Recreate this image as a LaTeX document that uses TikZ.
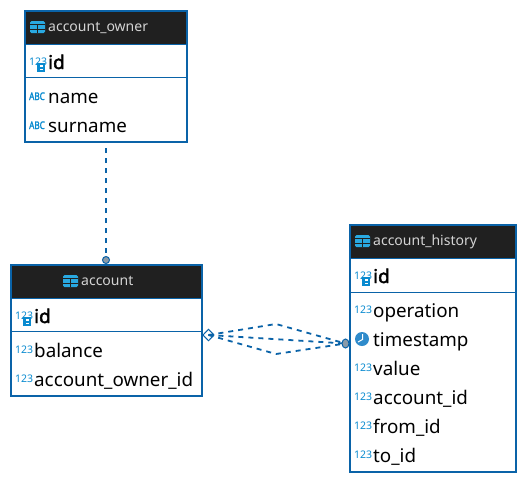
\documentclass[tikz,border=0pt]{standalone}
\usepackage{fontspec}
\setmainfont{Noto Sans}
\newfontfamily\fatfam[FakeBold=2.2]{Noto Sans}
\usetikzlibrary{shapes.geometric}
\definecolor{edge}{HTML}{0A63A8}
\definecolor{head}{HTML}{202020}
\definecolor{headtext}{HTML}{D4D4D4}
\definecolor{iconblue}{HTML}{0A8BD0}
\definecolor{tblblue}{HTML}{29A9E1}
\definecolor{dotgray}{HTML}{8A9AA8}
\definecolor{clockblue}{HTML}{2F8BCB}
\tikzset{
  x=1pt,y=-1pt,
  tablebox/.style={draw=edge,line width=1.8pt,fill=white,inner sep=0pt,outer sep=0pt,anchor=north west},
  sepline/.style={draw=edge,line width=0.9pt},
  col/.style={anchor=base west,inner sep=0pt,text=black,font=\fontsize{18.8}{18.8}\selectfont},
  keycol/.style={col,font=\fontsize{19}{19}\fatfam},
  title/.style={anchor=base west,inner sep=0pt,text=headtext,font=\fontsize{14}{14}\selectfont},
  numicon/.style={anchor=base west,inner sep=0pt,text=iconblue,font=\fontsize{10.5}{10.5}\selectfont},
  abcicon/.style={anchor=base west,inner sep=0pt,text=iconblue,xscale=.78,font=\fontsize{10.5}{10.5}\fatfam},
  rel/.style={draw=edge,line width=1.8pt,dash pattern=on 5pt off 5pt},
  enddot/.style={ellipse,draw=edge,fill=dotgray,line width=1pt,minimum width=7pt,minimum height=7pt,inner sep=0pt,outer sep=0pt},
  enddia/.style={diamond,draw=edge,fill=white,line width=1pt,minimum width=11pt,minimum height=11.5pt,inner sep=0pt,outer sep=0pt}
}
\newcommand{\tblicon}[2]{%
  \fill[tblblue,rounded corners=1.5pt] (#1,#2) rectangle ++(15,12);
  \draw[head,line width=0.8pt] (#1,#2+3.5) -- ++(15,0) (#1,#2+8) -- ++(15,0) (#1+7.5,#2+3.5) -- ++(0,8.5);
}
% 123 with a key badge; #1 = left, #2 = baseline of the digits
\newcommand{\keyicon}[2]{%
  \node[numicon] at (#1,#2) {123};
  \fill[iconblue] (#1+8,#2-2) rectangle ++(8,9);
  \fill[white] (#1+10.5,#2-0.5) rectangle ++(3,2.5);
  \fill[white] (#1+10.5,#2+3.5) rectangle ++(3,1.5);
}
\begin{document}
\begin{tikzpicture}
\useasboundingbox (0,0) rectangle (528,483);
\fill[white] (0,0) rectangle (528,483);

% account_owner
\node[tablebox,minimum width=162pt,minimum height=131pt] (owner) at (25,11) {};
\fill[head] (26,12) rectangle (186,44);
\draw[sepline] (26,44.5) -- (186,44.5);
\draw[sepline] (26,77.5) -- (186,77.5);
\tblicon{30}{21}
\node[title] (ownertitle) at (48,31) {account\_owner};
\keyicon{29}{65}
\node[keycol] (ownerid) at (48,69) {id};
\node[abcicon] (ownerabc1) at (29,100) {ABC};
\node[col] (ownername) at (48,103) {name};
\node[abcicon] (ownerabc2) at (29,129) {ABC};
\node[col] (ownersurname) at (48,132) {surname};

% account
\node[tablebox,minimum width=191pt,minimum height=131pt] (acct) at (11,265) {};
\fill[head] (12,266) rectangle (201,298);
\draw[sepline] (12,298.5) -- (201,298.5);
\draw[sepline] (12,331.5) -- (201,331.5);
\tblicon{63}{275}
\node[title] (accttitle) at (81,285) {account};
\keyicon{15}{319}
\node[keycol] (acctid) at (34,323) {id};
\node[numicon] (acctn1) at (15,353) {123};
\node[col] (acctbal) at (34,357) {balance};
\node[numicon] (acctn2) at (15,382) {123};
\node[col] (acctfk) at (34,386) {account\_owner\_id};

% account_history
\node[tablebox,minimum width=166pt,minimum height=247pt] (hist) at (350,225) {};
\fill[head] (351,226) rectangle (515,258);
\draw[sepline] (351,258.5) -- (515,258.5);
\draw[sepline] (351,292.5) -- (515,292.5);
\tblicon{355}{235}
\node[title] (histtitle) at (373,245) {account\_history};
\keyicon{354}{279}
\node[keycol] (histid) at (373,283) {id};
\node[numicon] (histn1) at (354,313) {123};
\node[col] (histop) at (373,317) {operation};
\fill[clockblue] (362,339) circle (7);
\draw[white,line width=1pt] (362.5,334) -- (362.5,339.5) -- (358,342);
\node[col] (histts) at (373,346) {timestamp};
\node[numicon] (histn2) at (354,371) {123};
\node[col] (histval) at (373,375) {value};
\node[numicon] (histn3) at (354,400) {123};
\node[col] (histacc) at (373,404) {account\_id};
\node[numicon] (histn4) at (354,429) {123};
\node[col] (histfrom) at (373,433) {from\_id};
\node[numicon] (histn5) at (354,458) {123};
\node[col] (histto) at (373,462) {to\_id};

% connectors
\node[enddia] (acctdia) at (208.5,335) {};
\coordinate (ownerstart) at (106,148);
\coordinate (upper) at (276,324);
\coordinate (lower) at (276,354);
\coordinate (histend) at (345.5,343.5);
\coordinate (ownerend) at (106,260);
\draw[rel] (ownerstart) -- (ownerend);
\draw[rel] (acctdia.center) -- (upper) -- (histend);
\draw[rel] (acctdia.center) -- (histend);
\draw[rel] (acctdia.center) -- (lower) -- (histend);
\node[enddot] (ownerdot) at (ownerend) {};
\node[enddot,minimum height=9pt] (histdot) at (histend) {};
\end{tikzpicture}
\end{document}
